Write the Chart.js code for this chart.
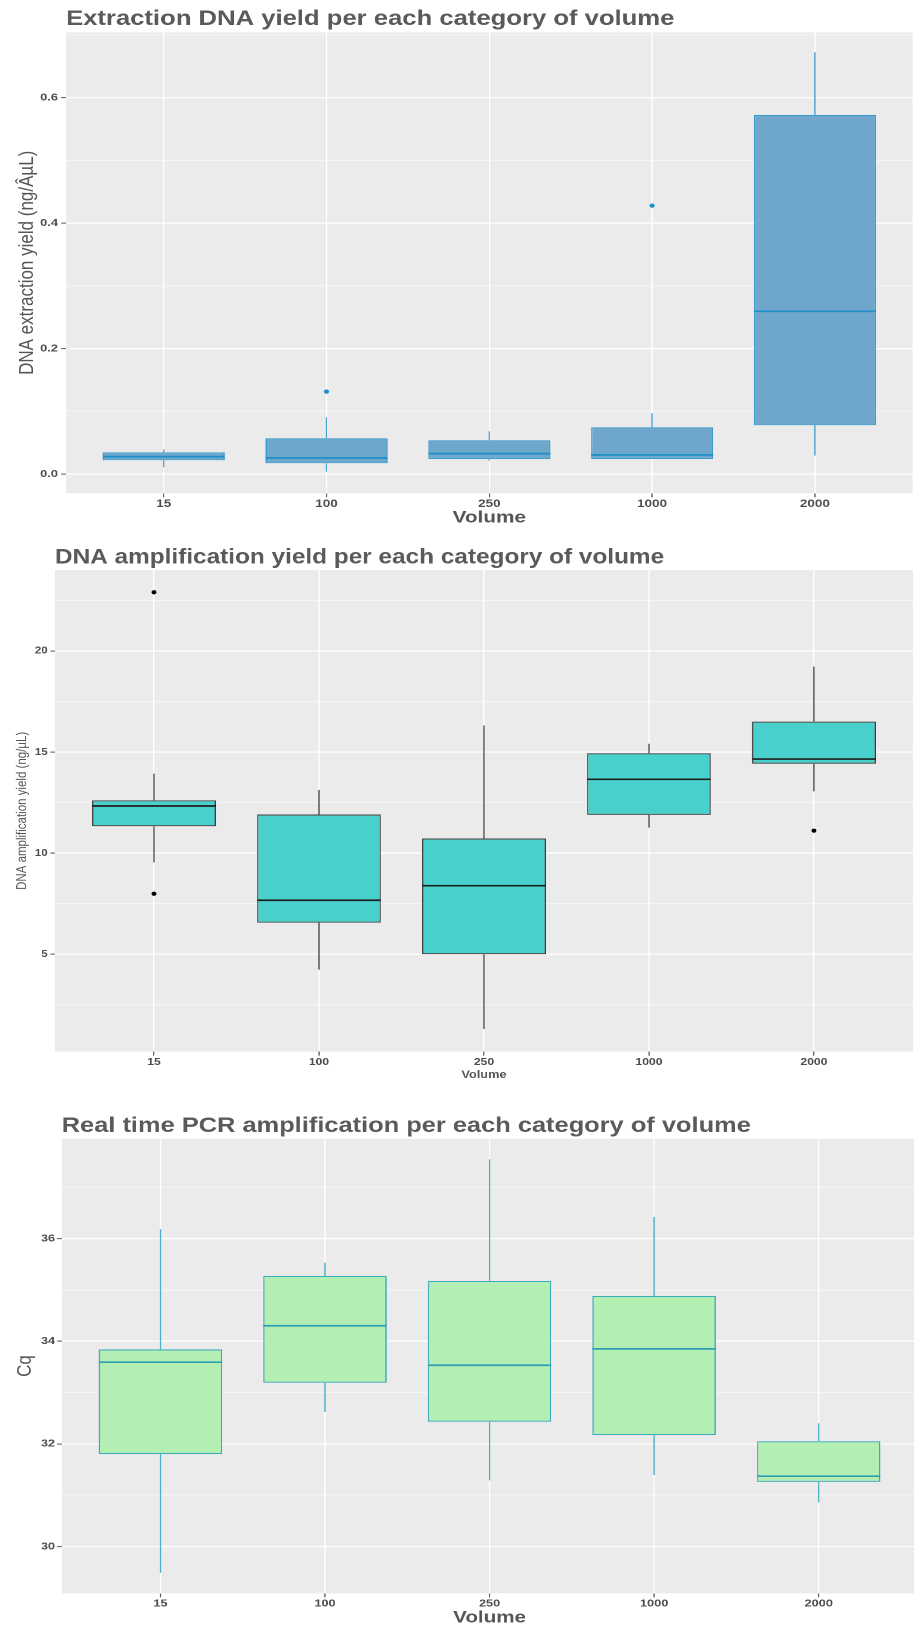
<!DOCTYPE html>
<html>
<head>
<meta charset="utf-8">
<script src="https://cdn.jsdelivr.net/npm/chart.js@4.4.1/dist/chart.umd.min.js"></script>
<style>
  html, body { margin: 0; padding: 0; background: #fff; overflow: hidden; width: 914px; height: 1627px; }
  .panel { position: absolute; left: 0; transform-origin: 0 0; }
</style>
</head>
<body>
<div class="panel" id="p1"><canvas id="c1"></canvas></div>
<div class="panel" id="p2"><canvas id="c2"></canvas></div>
<div class="panel" id="p3"><canvas id="c3"></canvas></div>
<script>
// categories
const volumes = ['15', '100', '250', '1000', '2000'];

// extraction DNA yield (ng/µL)
const extrLow  = [0.0106, 0.0037, 0.0213, 0.0239, 0.0292];
const extrQ1   = [0.0218, 0.0170, 0.0239, 0.0239, 0.0776];
const extrMed  = [0.0276, 0.0255, 0.0324, 0.0303, 0.2593];
const extrQ3   = [0.0345, 0.0569, 0.0537, 0.0744, 0.5724];
const extrHigh = [0.0393, 0.0903, 0.0680, 0.0967, 0.6723];
const extrOut  = [[], [0.1313], [], [0.4278], []];
const extrTicks = [0, 0.2, 0.4, 0.6];
const extrMinor = [0.1, 0.3, 0.5, 0.7];

// DNA amplification yield (ng/µL)
const ampLow  = [9.54, 4.24, 1.30, 11.26, 13.05];
const ampQ1   = [11.33, 6.56, 5.00, 11.89, 14.42];
const ampMed  = [12.33, 7.67, 8.39, 13.65, 14.65];
const ampQ3   = [12.61, 11.91, 10.72, 14.94, 16.50];
const ampHigh = [13.93, 13.12, 16.31, 15.41, 19.23];
const ampOut  = [[22.90, 7.99], [], [], [], [11.11]];
const ampTicks = [5, 10, 15, 20];
const ampMinor = [2.5, 7.5, 12.5, 17.5, 22.5];

// real time PCR, Cq
const cqLow  = [29.49, 32.62, 31.29, 31.39, 30.86];
const cqQ1   = [31.80, 33.19, 32.43, 32.17, 31.26];
const cqMed  = [33.59, 34.30, 33.53, 33.85, 31.37];
const cqQ3   = [33.84, 35.27, 35.17, 34.88, 32.05];
const cqHigh = [36.18, 35.53, 37.54, 36.42, 32.40];
const cqOut  = [[], [], [], [], []];
const cqTicks = [30, 32, 34, 36];
const cqMinor = [31, 33, 35, 37];

const FONT = '"Liberation Sans", Arial, Helvetica, sans-serif';
Chart.defaults.font.family = FONT;

function makePanel(cfg, st) {
  const wrap = document.getElementById(cfg.wrap);
  wrap.style.top = cfg.top + 'px';
  wrap.style.width = cfg.width + 'px';
  wrap.style.height = cfg.height + 'px';
  wrap.style.transform = 'scaleX(' + cfg.stretch + ')';

  const isMajor = v => cfg.majors.includes(v);

  const boxPlugin = {
    id: 'boxplot',
    beforeDraw(chart) {
      const { ctx, chartArea: a } = chart;
      ctx.save();
      ctx.fillStyle = '#ebebeb';
      ctx.fillRect(a.left, a.top, a.right - a.left, a.bottom - a.top);
      ctx.restore();
    },
    beforeDatasetsDraw(chart) {
      // whiskers
      const { ctx, scales: { x, y } } = chart;
      ctx.save();
      ctx.strokeStyle = cfg.whisker;
      ctx.lineWidth = 1.1;
      ctx.beginPath();
      volumes.forEach((v, i) => {
        const px = x.getPixelForValue(i);
        ctx.moveTo(px, y.getPixelForValue(st.high[i]));
        ctx.lineTo(px, y.getPixelForValue(st.q3[i]));
        ctx.moveTo(px, y.getPixelForValue(st.q1[i]));
        ctx.lineTo(px, y.getPixelForValue(st.low[i]));
      });
      ctx.stroke();
      ctx.restore();
    },
    afterDatasetsDraw(chart) {
      // medians
      const { ctx, scales: { y } } = chart;
      const bars = chart.getDatasetMeta(0).data;
      ctx.save();
      ctx.strokeStyle = cfg.median;
      ctx.lineWidth = 1.7;
      ctx.beginPath();
      bars.forEach((bar, i) => {
        const { x, width } = bar.getProps(['x', 'width'], true);
        const py = y.getPixelForValue(st.med[i]);
        ctx.moveTo(x - width / 2, py);
        ctx.lineTo(x + width / 2, py);
      });
      ctx.stroke();
      ctx.restore();
    },
    afterDraw(chart) {
      const { ctx, chartArea } = chart;
      ctx.save();
      ctx.font = 'bold 21px ' + FONT;
      ctx.fillStyle = '#5a5a5a';
      ctx.textBaseline = 'alphabetic';
      ctx.textAlign = 'left';
      ctx.fillText(cfg.title, chartArea.left, cfg.titleY);
      ctx.restore();
    }
  };

  const outliers = [];
  st.out.forEach((list, i) => list.forEach(v => outliers.push({ x: i, y: v })));

  return new Chart(document.getElementById(cfg.canvas), {
    type: 'bar',
    data: {
      datasets: [
        {
          type: 'bar',
          data: volumes.map((v, i) => ({ x: i, y: [st.q1[i], st.q3[i]] })),
          backgroundColor: cfg.fill,
          borderColor: cfg.border,
          borderWidth: 1.1,
          borderSkipped: false,
          barPercentage: 0.75,
          categoryPercentage: 1
        },
        {
          type: 'scatter',
          data: outliers,
          pointRadius: 2.1,
          pointBackgroundColor: cfg.outlier,
          pointBorderWidth: 0
        }
      ]
    },
    options: {
      responsive: true,
      maintainAspectRatio: false,
      animation: false,
      devicePixelRatio: 2,
      layout: { padding: { top: cfg.padTop, left: 0, right: 0, bottom: 0 } },
      plugins: { legend: { display: false }, tooltip: { enabled: false } },
      scales: {
        x: {
          type: 'linear',
          min: -0.6,
          max: 4.6,
          offset: false,
          afterBuildTicks: ax => { ax.ticks = volumes.map((v, i) => ({ value: i })); },
          afterFit: ax => { ax.height = cfg.xAxisH; },
          ticks: {
            callback: v => volumes[v],
            font: { size: cfg.xTick, weight: 'bold' },
            color: '#4d4d4d',
            padding: 0,
            maxRotation: 0,
            autoSkip: false
          },
          grid: { offset: false, color: '#ffffff', lineWidth: 1.1, tickColor: '#555', tickWidth: 1, tickLength: 4 },
          border: { display: false },
          title: {
            display: true,
            text: 'Volume',
            font: { size: cfg.xTitle, weight: 'bold' },
            color: '#555555',
            padding: { top: 0, bottom: cfg.xTitlePad }
          }
        },
        y: {
          type: 'linear',
          min: cfg.yMin,
          max: cfg.yMax,
          afterBuildTicks: ax => {
            ax.ticks = cfg.majors.concat(cfg.minors).sort((a, b) => a - b).map(v => ({ value: v }));
          },
          afterFit: ax => { ax.width = cfg.yAxisW; },
          ticks: {
            callback: v => isMajor(v) ? cfg.fmt(v) : '',
            font: { size: cfg.yTick, weight: 'bold' },
            color: '#4d4d4d',
            padding: cfg.yTickPad,
            autoSkip: false
          },
          grid: {
            color: '#ffffff',
            lineWidth: c => isMajor(c.tick.value) ? 1.2 : 0.6,
            tickColor: c => isMajor(c.tick.value) ? '#555' : 'rgba(0,0,0,0)',
            tickWidth: 1,
            tickLength: 4
          },
          border: { display: false },
          title: {
            display: true,
            text: cfg.yLabel,
            font: { size: cfg.yTitle, weight: 'normal' },
            color: '#555555',
            padding: { top: cfg.yTitlePad, bottom: 0 }
          }
        }
      }
    },
    plugins: [boxPlugin]
  });
}

makePanel({
  wrap: 'p1', canvas: 'c1', top: 0, width: 751.5, height: 535, stretch: 1.22,
  padTop: 32.3, xAxisH: 41.7, yAxisW: 54.1, titleY: 25,
  title: 'Extraction DNA yield per each category of volume',
  yLabel: 'DNA extraction yield (ng/ÂµL)', yTitle: 17, yTitlePad: 12.3,
  xTitle: 17, xTitlePad: 6.8, xTick: 11, yTick: 10.5, yTickPad: 2.6,
  yMin: -0.0308, yMax: 0.704, majors: extrTicks, minors: extrMinor, fmt: v => v.toFixed(1),
  fill: '#6ea6cc', border: '#3a9bcc', whisker: '#4ca5d0', median: '#1f8fc8', outlier: '#1b8fcb'
}, { low: extrLow, q1: extrQ1, med: extrMed, q3: extrQ3, high: extrHigh, out: extrOut });

makePanel({
  wrap: 'p2', canvas: 'c2', top: 535, width: 791.0, height: 548, stretch: 1.16,
  padTop: 35, xAxisH: 31.3, yAxisW: 47.4, titleY: 28.3,
  title: 'DNA amplification yield per each category of volume',
  yLabel: 'DNA amplification yield (ng/µL)', yTitle: 11.5, yTitlePad: 12.5,
  xTitle: 11, xTitlePad: 1.4, xTick: 10.5, yTick: 10, yTickPad: 2.3,
  yMin: 0.18, yMax: 24.0, majors: ampTicks, minors: ampMinor, fmt: v => String(v),
  fill: '#48d1cc', border: '#3d3d3d', whisker: '#4a4a4a', median: '#1e1e1e', outlier: '#000000'
}, { low: ampLow, q1: ampQ1, med: ampMed, q3: ampQ3, high: ampHigh, out: ampOut });

makePanel({
  wrap: 'p3', canvas: 'c3', top: 1083, width: 758.2, height: 548, stretch: 1.21,
  padTop: 55.8, xAxisH: 37.7, yAxisW: 51.0, titleY: 49,
  title: 'Real time PCR amplification per each category of volume',
  yLabel: 'Cq', yTitle: 17, yTitlePad: 10.7,
  xTitle: 17, xTitlePad: 2.8, xTick: 10.5, yTick: 10.5, yTickPad: 1.5,
  yMin: 29.09, yMax: 37.94, majors: cqTicks, minors: cqMinor, fmt: v => String(v),
  fill: '#b3efb3', border: '#3aaabd', whisker: '#48aec4', median: '#2aa0b2', outlier: '#2aa0b2'
}, { low: cqLow, q1: cqQ1, med: cqMed, q3: cqQ3, high: cqHigh, out: cqOut });
</script>
</body>
</html>
